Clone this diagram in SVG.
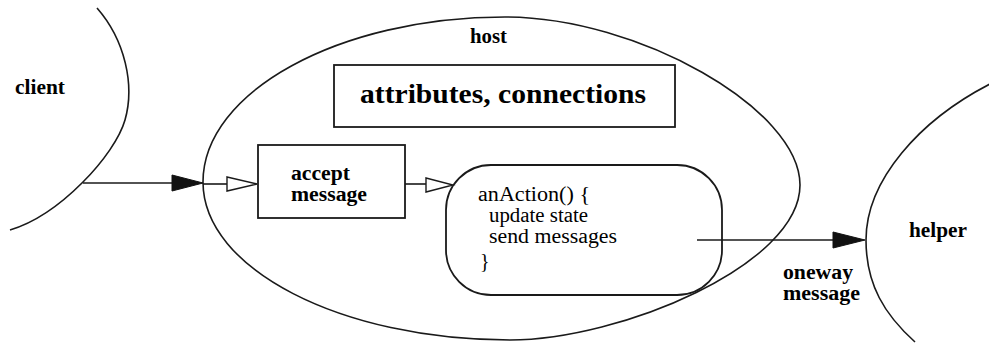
<svg xmlns="http://www.w3.org/2000/svg" width="989" height="348" viewBox="0 0 989 348">
<style>
.ln{fill:none;stroke:#1a1a1a;stroke-width:1.6}
.box{fill:#fff;stroke:#1a1a1a;stroke-width:1.8}
.lbl{font-family:"Liberation Serif","Times New Roman",serif;font-weight:bold;fill:#000}
.code{font-family:"Liberation Serif","Times New Roman",serif;fill:#000}
.solid{fill:#111;stroke:#111;stroke-width:1}
.hollow{fill:#fff;stroke:#1a1a1a;stroke-width:1.4}
</style>
<rect width="989" height="348" fill="#fff"/>
<g id="client">
<path class="ln" d="M97,8 C125,40 135,85 125,120 C115,155 60,215 10,230"/>
<text class="lbl" x="15" y="94" font-size="21" textLength="50" lengthAdjust="spacingAndGlyphs">client</text>
</g>
<g id="host">
<path class="ln" d="M203,182 C203,92 339,17 505,17 C638,17 800,109 800,185 C800,265 620,340 510,340 C341,340 203,269 203,182 Z"/>
<text class="lbl" x="470" y="43" font-size="20" textLength="37" lengthAdjust="spacingAndGlyphs">host</text>
</g>
<g id="attributes">
<rect class="box" x="334" y="65" width="341" height="62"/>
<text class="lbl" x="360" y="103" font-size="28" textLength="286" lengthAdjust="spacingAndGlyphs">attributes, connections</text>
</g>
<g id="accept">
<rect class="box" x="258" y="145" width="147" height="73"/>
<text class="lbl" x="291" y="180" font-size="20" textLength="59" lengthAdjust="spacingAndGlyphs">accept</text>
<text class="lbl" x="291" y="201" font-size="20" textLength="76" lengthAdjust="spacingAndGlyphs">message</text>
</g>
<g id="anAction">
<rect class="box" x="446" y="165" width="276" height="130" rx="45" ry="45"/>
<text class="code" x="478" y="201" font-size="20" textLength="112" lengthAdjust="spacingAndGlyphs">anAction() {</text>
<text class="code" x="489" y="222" font-size="20" textLength="99" lengthAdjust="spacingAndGlyphs">update state</text>
<text class="code" x="489" y="243" font-size="20" textLength="128" lengthAdjust="spacingAndGlyphs">send messages</text>
<text class="code" x="480" y="268" font-size="20">}</text>
</g>
<g id="helper">
<path class="ln" d="M990,84 C920,120 866,180 866,240 C866,285 885,315 915,342"/>
<text class="lbl" x="909" y="237" font-size="21" textLength="58" lengthAdjust="spacingAndGlyphs">helper</text>
</g>
<g id="connectors">
<line class="ln" x1="83" y1="183" x2="174" y2="183" stroke-width="2"/>
<polygon class="solid" points="172,175 203,183 172,191"/>
<line class="ln" x1="203" y1="184" x2="227" y2="184"/>
<polygon class="hollow" points="227,177 257,184 227,191"/>
<line class="ln" x1="405" y1="184" x2="426" y2="184"/>
<polygon class="hollow" points="426,178 453,185 426,192"/>
<line class="ln" x1="697" y1="240" x2="835" y2="240" stroke-width="2"/>
<polygon class="solid" points="833,232 865,240 833,248"/>
<text class="lbl" x="783" y="279" font-size="20" textLength="70" lengthAdjust="spacingAndGlyphs">oneway</text>
<text class="lbl" x="783" y="300" font-size="20" textLength="77" lengthAdjust="spacingAndGlyphs">message</text>
</g>
</svg>
